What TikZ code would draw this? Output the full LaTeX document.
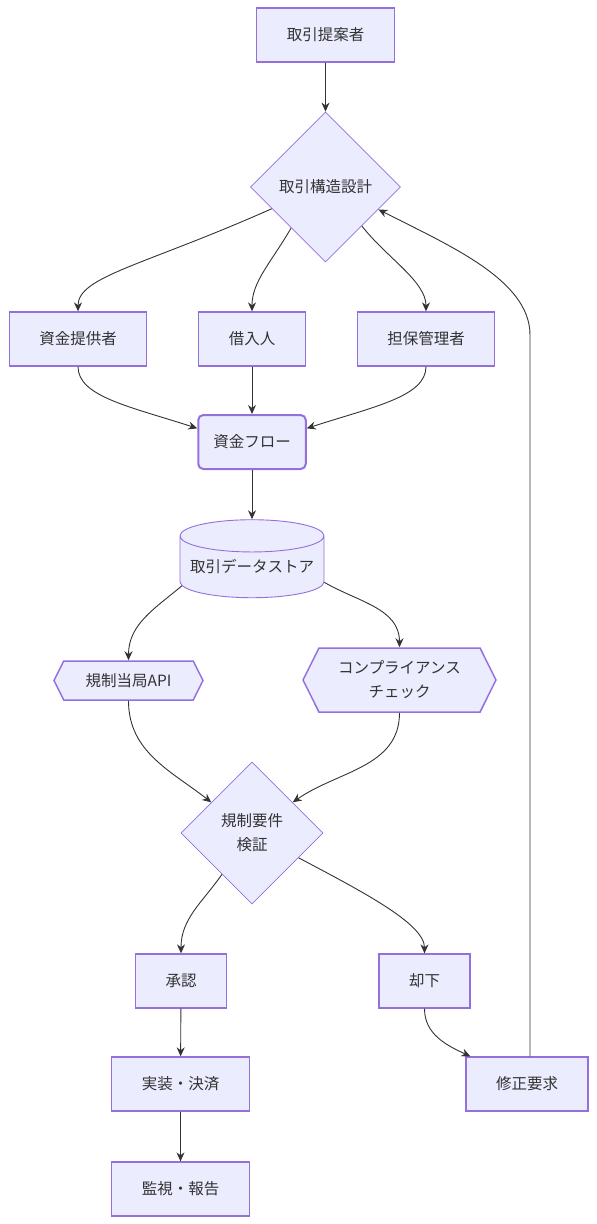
\documentclass[tikz,border=0pt]{standalone}
\usepackage{fontspec}
\setmainfont{Noto Sans CJK JP}
\usetikzlibrary{arrows.meta}
\usetikzlibrary{shapes.geometric,shapes.symbols}
\tikzset{>={Stealth[length=9pt,width=8pt]}}
\definecolor{boxfill}{HTML}{ECECFF}
\definecolor{boxline}{HTML}{9370DB}
\definecolor{ink}{HTML}{333333}
\tikzstyle{base}=[fill=boxfill,draw=boxline,text=ink,font=\fontsize{15.5}{24}\selectfont,align=center]
\tikzstyle{proc}=[base,rectangle,line width=1.3pt,minimum height=54pt,inner xsep=30pt,inner ysep=0pt]
\tikzstyle{flow box}=[proc,rounded corners=5pt,line width=2pt,inner xsep=15pt]
\tikzstyle{decide}=[base,diamond,line width=0.8pt,inner sep=0pt,aspect=1]
\tikzstyle{store}=[base,cylinder,shape border rotate=90,aspect=0.26,line width=0.9pt,inner sep=0pt]
\tikzstyle{hexa}=[base,signal,signal to=west and east,signal pointer angle=127,line width=1.5pt,inner sep=0pt]
\tikzstyle{link}=[->,draw=ink,fill=none,line width=0.9pt]

\begin{document}
\begin{tikzpicture}
  \useasboundingbox (0,0) rectangle (597pt,-1224pt);
  \begin{scope}[x=1pt,y=1pt]
  % nodes
  \node[proc] (proposer) at (325.5,-35) {取引提案者};
  \node[decide,minimum size=150pt] (design) at (325.5,-187) {取引構造設計};
  \node[proc] (lender) at (78,-339) {資金提供者};
  \node[proc] (borrower) at (252,-339) {借入人};
  \node[proc] (collateral) at (426,-339) {担保管理者};
  \node[flow box] (flow) at (252,-442) {資金フロー};
  \node[store,minimum width=144pt,minimum height=78pt] (store) at (252,-567) {取引データストア};
  \node[hexa,minimum width=149pt,minimum height=39pt] (api) at (128.5,-680.5) {規制当局API};
  \node[hexa,minimum width=193pt,minimum height=64pt] (comp) at (399.5,-680) {コンプライアンス\\チェック};
  \node[decide,minimum size=142pt] (check) at (252,-833) {規制要件\\検証};
  \node[proc] (approve) at (181,-981) {承認};
  \node[proc] (reject) at (424.5,-981) {却下};
  \node[proc] (settle) at (180.5,-1084) {実装・決済};
  \node[proc] (revise) at (527,-1084) {修正要求};
  \node[proc] (monitor) at (180.5,-1189) {監視・報告};
  \coordinate (turn) at (530,-335);
  % connectors
  \draw[link] (proposer) -- (design);
  \draw[link] (design.202) to[out=204,in=90,out distance=140,in distance=35] (lender.north);
  \draw[link] (design.230) to[out=240,in=90,out distance=40,in distance=30] (borrower.north);
  \draw[link] (design.-47) to[out=-52,in=90,out distance=40,in distance=30] (collateral.north);
  \draw[link] (lender.south) to[out=-90,in=162,out distance=30,in distance=70] (flow.166);
  \draw[link] (borrower) -- (flow);
  \draw[link] (collateral.south) to[out=-90,in=18,out distance=30,in distance=70] (flow.14);
  \draw[link] (flow) -- (store);
  \draw[link] (store.195) to[out=220,in=90] (api.north);
  \draw[link] (store.-12) to[out=-30,in=90] (comp.north);
  \draw[link] (api.south) to[out=-90,in=142] (check.143);
  \draw[link] (comp.south) to[out=-90,in=35] (check.37);
  \draw[link] (check.234) to[out=235,in=90] (approve.north);
  \draw[link] (check.-28) to[out=-28,in=90,out distance=70,in distance=30] (reject.north);
  \draw[link] (approve) -- (settle);
  \draw[link] (settle) -- (monitor);
  \draw[link] (reject.south) to[out=-90,in=155] ([xshift=5pt]revise.north west);
  \draw[link] (turn |- revise.north) -- (turn) to[out=90,in=-27,out distance=55,in distance=80] (design.-23);
  \end{scope}
\end{tikzpicture}
\end{document}
